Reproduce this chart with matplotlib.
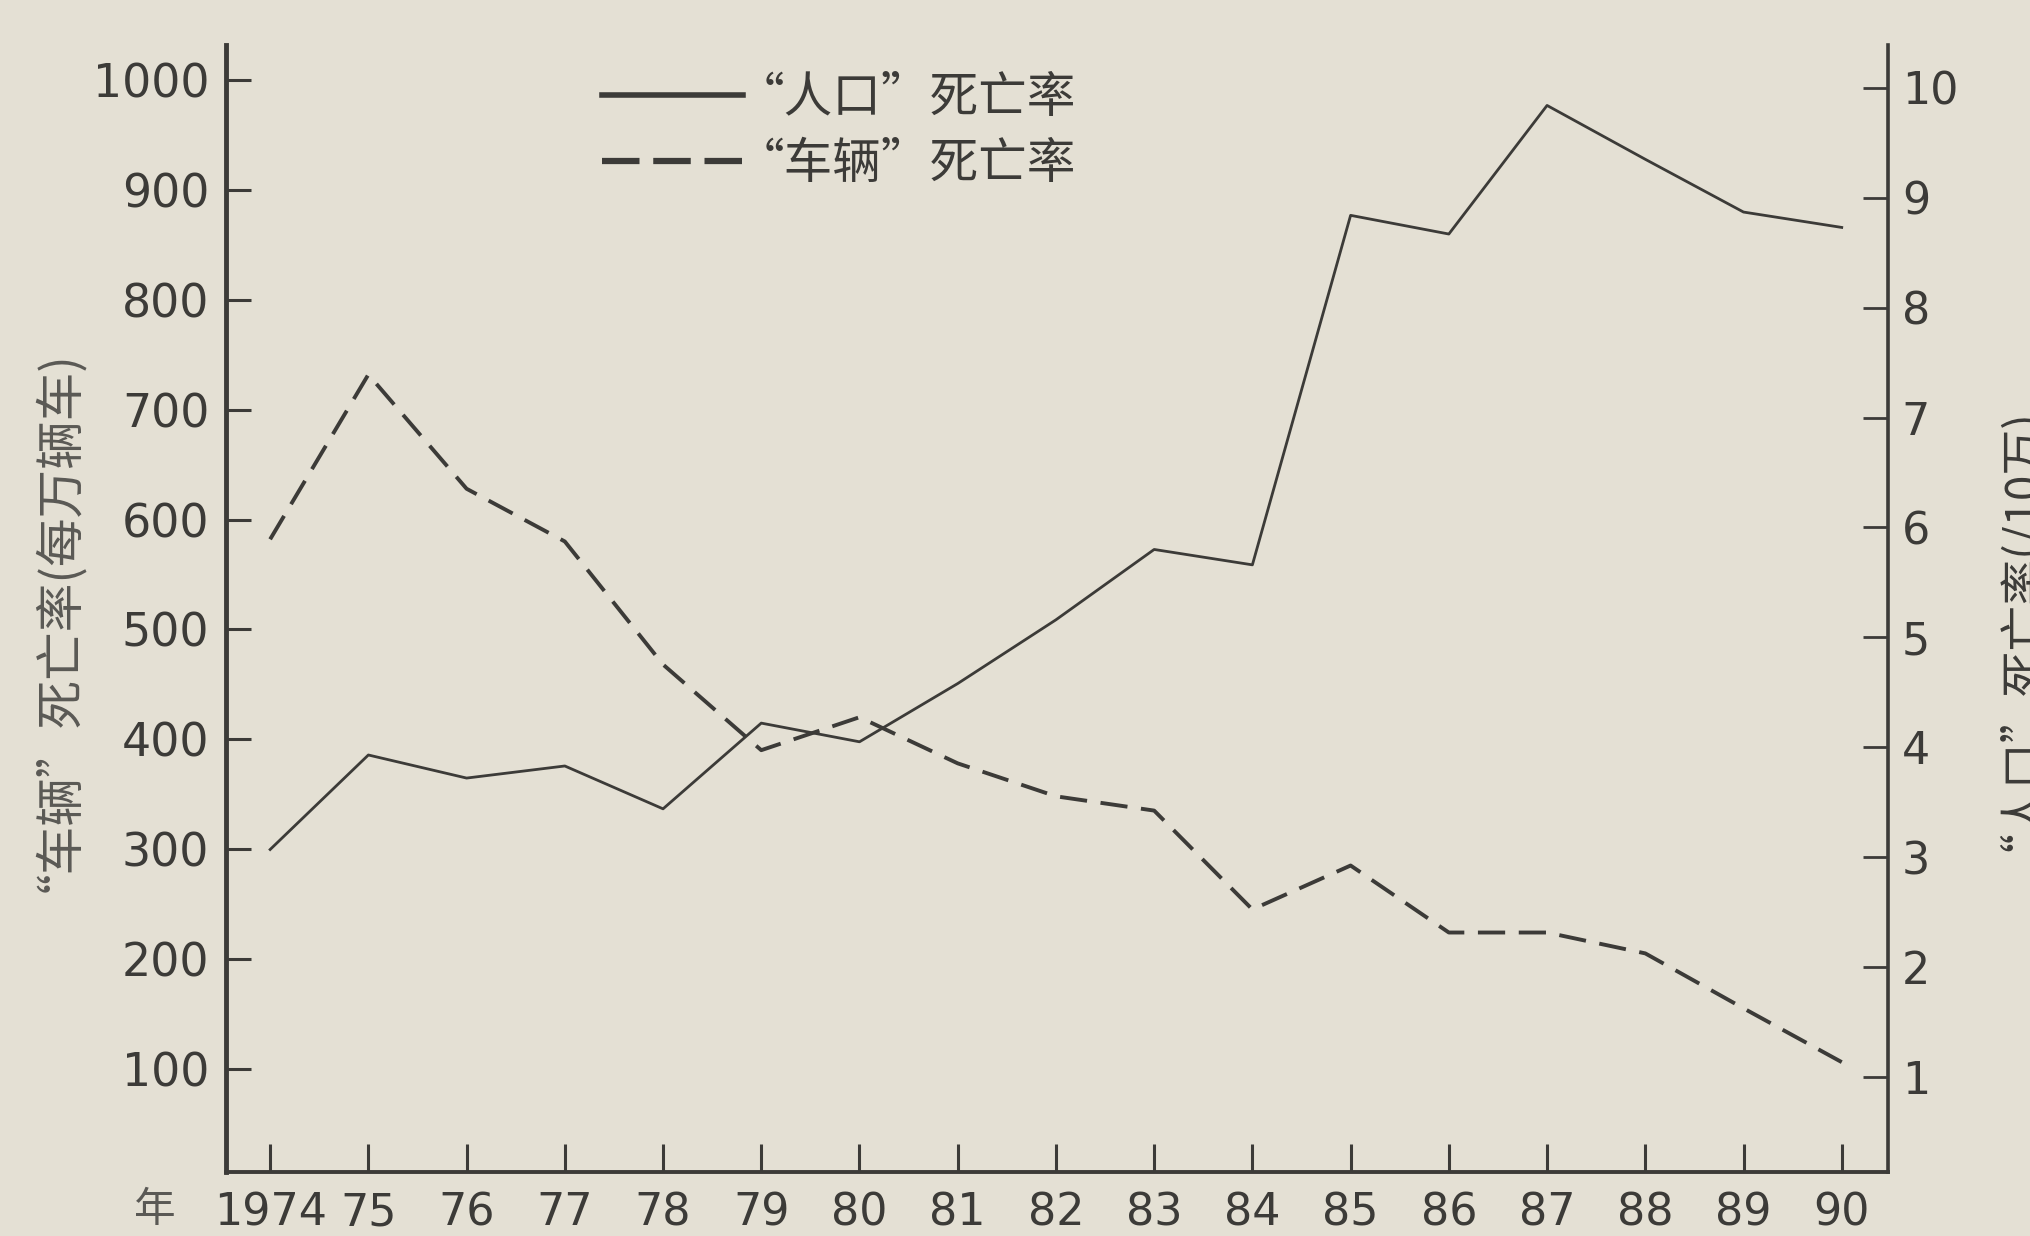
# -*- coding: utf-8 -*-
import matplotlib
matplotlib.use("Agg")
import matplotlib.pyplot as plt
from matplotlib.lines import Line2D

plt.rcParams["font.family"] = ["DejaVu Sans", "Noto Sans CJK SC"]

# data
years = list(range(1974, 1991))
year_labels = ["1974", "75", "76", "77", "78", "79", "80", "81", "82",
               "83", "84", "85", "86", "87", "88", "89", "90"]
# "车辆" death rate, per 10,000 vehicles (left axis)
vehicle_rate = [582, 732, 628, 580, 468, 390, 420, 378, 348, 335,
                245, 285, 224, 224, 205, 155, 106]
# "人口" death rate, per 100,000 people (right axis)
population_rate = [3.07, 3.93, 3.72, 3.83, 3.44, 4.22, 4.05, 4.58, 5.16,
                   5.80, 5.66, 8.84, 8.67, 9.84, 9.35, 8.87, 8.73]
left_ticks = [100, 200, 300, 400, 500, 600, 700, 800, 900, 1000]
right_ticks = [1, 2, 3, 4, 5, 6, 7, 8, 9, 10]

PAPER = "#e4e0d4"
INK = "#3c3b38"
CJK = ["Noto Sans CJK SC", "DejaVu Sans"]

fig = plt.figure(figsize=(20.3, 12.36), dpi=100, facecolor=PAPER)
ax = fig.add_axes([0.1113, 0.0518, 0.8187, 0.9118])
ax.set_facecolor(PAPER)
ax2 = ax.twinx()

ax.plot(years, vehicle_rate, color=INK, lw=2.8, ls=(0, (7, 3.5)))
ax2.plot(years, population_rate, color=INK, lw=2.0)

ax.set_xlim(1973.55, 1990.47)
ax.set_ylim(6, 1032)
ax2.set_ylim(0.136, 10.39)

ax.set_xticks(years)
ax.set_xticklabels(year_labels)
ax.set_yticks(left_ticks)
ax2.set_yticks(right_ticks)

ax.tick_params(axis="x", direction="in", length=20, width=2.2, colors=INK,
               labelsize=32, pad=14)
ax.tick_params(axis="y", direction="in", length=18, width=2.2, colors=INK,
               labelsize=33, pad=12)
ax2.tick_params(axis="y", direction="in", length=18, width=2.0, colors=INK,
                labelsize=32, pad=10)

for a in (ax, ax2):
    a.spines["top"].set_visible(False)
    for s in ("left", "right", "bottom"):
        a.spines[s].set_color(INK)
ax.spines["left"].set_linewidth(3.5)
ax.spines["bottom"].set_linewidth(2.8)
ax2.spines["right"].set_linewidth(2.6)
ax2.spines["left"].set_visible(False)
ax2.spines["bottom"].set_visible(False)

ax.set_ylabel("“车辆”死亡率(每万辆车)", family=CJK, fontsize=35, color="#5a5955")
ax.yaxis.set_label_coords(-0.101, 0.50)

# right axis title, placed as figure text so it stays inside the canvas
fig.text(1998 / 2030, 1 - 618 / 1236, "“人口”死亡率(/10万)", family=CJK,
         fontsize=33, color=INK, rotation=90, ha="center", va="center")

fig.text(155 / 2030, 0.021, "年", family=CJK, fontsize=30, color="#5a5955",
         ha="center", va="center")

handles = [Line2D([], [], color=INK, lw=4),
           Line2D([], [], color=INK, lw=4.5, ls=(0, (6, 2.2)))]
leg = ax.legend(handles, ["“人口”死亡率", "“车辆”死亡率"],
                loc="upper left", bbox_to_anchor=(0.226, 0.975),
                frameon=False, handlelength=2.9, handletextpad=-0.15,
                labelspacing=0.35, borderpad=0, borderaxespad=0,
                prop={"family": CJK, "size": 35})
for t in leg.get_texts():
    t.set_color(INK)

fig.savefig("out.png", dpi=100, facecolor=PAPER)
